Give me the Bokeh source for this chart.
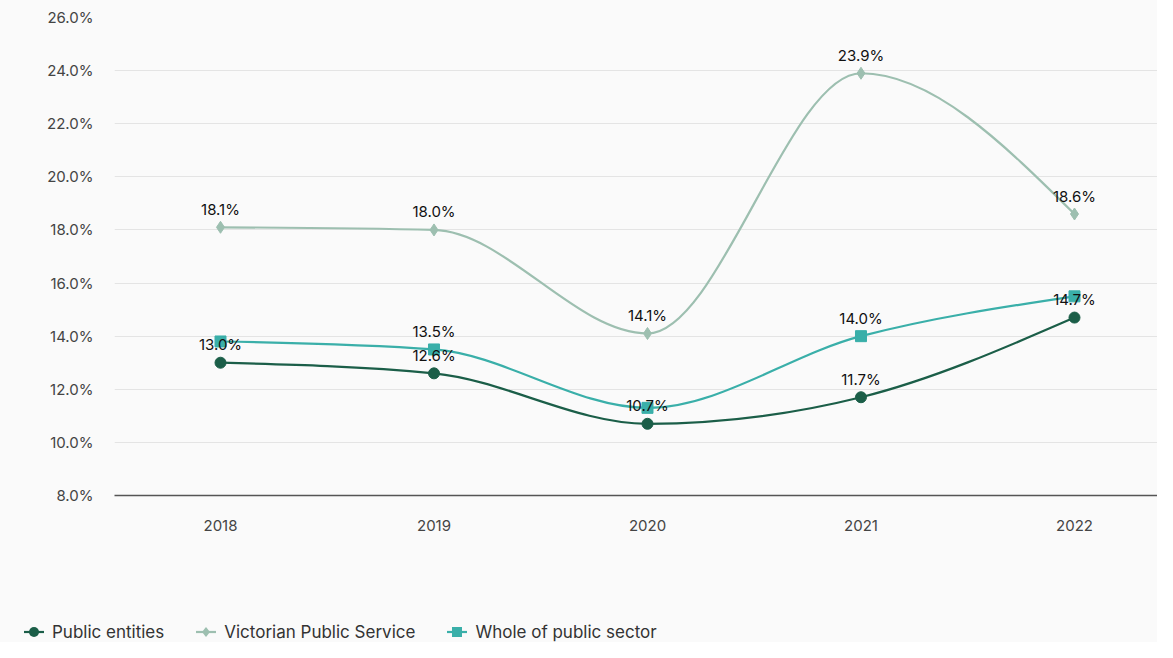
from bokeh.plotting import figure
from bokeh.layouts import column
from bokeh.models import Range1d, FixedTicker, ColumnDataSource, Div
from bokeh.core.properties import value
from bokeh.embed import file_html
from bokeh.resources import INLINE

years = [2018, 2019, 2020, 2021, 2022]
public_entities = [13.0, 12.6, 10.7, 11.7, 14.7]
victorian_public_service = [18.1, 18.0, 14.1, 23.9, 18.6]
whole_of_public_sector = [13.8, 13.5, 11.3, 14.0, 15.5]
wps_label_shown = [False, True, False, True, False]
y_ticks = [8, 10, 12, 14, 16, 18, 20, 22, 24, 26]
series_names = ["Public entities", "Victorian Public Service", "Whole of public sector"]

C_PE = "#1b5e48"
C_VPS = "#9dbfb0"
C_WPS = "#3aafa9"
BG = "#fafafa"
FONT = "Inter"


def monotone_tangents(xs, ys):
    n = len(xs)
    t = [0.0] * n

    def sign(v):
        return (v > 0) - (v < 0)

    for i in range(1, n - 1):
        h0 = xs[i] - xs[i - 1]
        h1 = xs[i + 1] - xs[i]
        s0 = (ys[i] - ys[i - 1]) / h0
        s1 = (ys[i + 1] - ys[i]) / h1
        p = (s0 * h1 + s1 * h0) / (h0 + h1)
        t[i] = (sign(s0) + sign(s1)) * min(abs(s0), abs(s1), 0.5 * abs(p))
    h = xs[1] - xs[0]
    t[0] = (3 * (ys[1] - ys[0]) / h - t[1]) / 2
    h = xs[-1] - xs[-2]
    t[-1] = (3 * (ys[-1] - ys[-2]) / h - t[-2]) / 2
    return t


def bezier_source(xs, ys):
    t = monotone_tangents(xs, ys)
    d = dict(x0=[], y0=[], x1=[], y1=[], cx0=[], cy0=[], cx1=[], cy1=[])
    for i in range(len(xs) - 1):
        dx = (xs[i + 1] - xs[i]) / 3
        d["x0"].append(xs[i]); d["y0"].append(ys[i])
        d["x1"].append(xs[i + 1]); d["y1"].append(ys[i + 1])
        d["cx0"].append(xs[i] + dx); d["cy0"].append(ys[i] + dx * t[i])
        d["cx1"].append(xs[i + 1] - dx); d["cy1"].append(ys[i + 1] - dx * t[i + 1])
    return ColumnDataSource(d)


p = figure(width=1157, height=550, output_backend="svg", toolbar_location=None,
           x_range=Range1d(2017.5035, 2022.3888), y_range=Range1d(8, 26),
           min_border_left=114, min_border_right=0, min_border_top=17, min_border_bottom=55)
p.background_fill_color = BG
p.border_fill_color = BG
p.outline_line_color = None

p.xgrid.grid_line_color = None
p.ygrid.grid_line_color = "#e4e4e4"
p.ygrid.grid_line_width = 1

p.yaxis.ticker = FixedTicker(ticks=y_ticks)
p.yaxis.major_label_overrides = {v: f"{v:.1f}%" for v in y_ticks}
p.yaxis.axis_line_color = None
p.yaxis.major_tick_line_color = None
p.yaxis.minor_tick_line_color = None
p.yaxis.major_tick_out = 0
p.yaxis.major_tick_in = 0
p.yaxis.major_label_standoff = 21
p.yaxis.major_label_text_font = FONT
p.yaxis.major_label_text_font_size = "15px"
p.yaxis.major_label_text_color = "#444444"

p.xaxis.ticker = FixedTicker(ticks=years)
p.xaxis.major_label_overrides = {v: str(v) for v in years}
p.xaxis.axis_line_color = "#555555"
p.xaxis.axis_line_width = 1.5
p.xaxis.major_tick_line_color = None
p.xaxis.minor_tick_line_color = None
p.xaxis.major_tick_out = 0
p.xaxis.major_tick_in = 0
p.xaxis.major_label_standoff = 24
p.xaxis.major_label_text_font = FONT
p.xaxis.major_label_text_font_size = "15px"
p.xaxis.major_label_text_color = "#444444"

series = [
    (series_names[0], public_entities, C_PE, "circle", 11),
    (series_names[1], victorian_public_service, C_VPS, "diamond", 12),
    (series_names[2], whole_of_public_sector, C_WPS, "square", 11),
]

for name, vals, col, mk, sz in series:
    src = bezier_source(years, vals)
    p.bezier(x0="x0", y0="y0", x1="x1", y1="y1", cx0="cx0", cy0="cy0",
             cx1="cx1", cy1="cy1", source=src, line_color=col, line_width=2.2)
    p.scatter(years, vals, marker=mk, size=sz, fill_color=col, line_color=col)

# data labels
lab_x, lab_y, lab_t = [], [], []
for i, y in enumerate(years):
    lab_x.append(y); lab_y.append(public_entities[i]); lab_t.append(f"{public_entities[i]:.1f}%")
    lab_x.append(y); lab_y.append(victorian_public_service[i]); lab_t.append(f"{victorian_public_service[i]:.1f}%")
    if wps_label_shown[i]:
        lab_x.append(y); lab_y.append(whole_of_public_sector[i]); lab_t.append(f"{whole_of_public_sector[i]:.1f}%")
p.text(lab_x, lab_y, text=lab_t, y_offset=-18, text_align="center", text_baseline="middle",
       text_font=value(FONT), text_font_size="15px", text_color="#111111")

# legend strip (HTML, since plot legends are clipped to the frame)
marker_svg = {
    "circle": lambda c: f'<circle cx="10" cy="8" r="5" fill="{c}"/>',
    "diamond": lambda c: f'<polygon points="10,3 14,8 10,13 6,8" fill="{c}"/>',
    "square": lambda c: f'<rect x="5" y="3" width="10" height="10" fill="{c}"/>',
}
parts = []
for name, vals, col, mk, sz in series:
    glyph = (f'<svg width="20" height="16" style="display:block">'
             f'<line x1="0" y1="8" x2="20" y2="8" stroke="{col}" stroke-width="2.2"/>'
             f'{marker_svg[mk](col)}</svg>')
    parts.append(f'<div style="display:flex;align-items:center;margin-right:32px">{glyph}'
                 f'<span style="margin-left:8px">{name}</span></div>')
html = (f'<div style="display:flex;align-items:center;height:16px;line-height:16px;'
        f'padding-left:24px;padding-top:82px;font-family:{FONT};font-size:17px;color:#333333">'
        + "".join(parts) + '</div>')
legend_div = Div(text=html, width=1157, height=92, styles={"background-color": BG, "margin": "0"})

layout = column(p, legend_div, spacing=0, styles={"background-color": BG})
open("out.html", "w").write(file_html(layout, INLINE))
